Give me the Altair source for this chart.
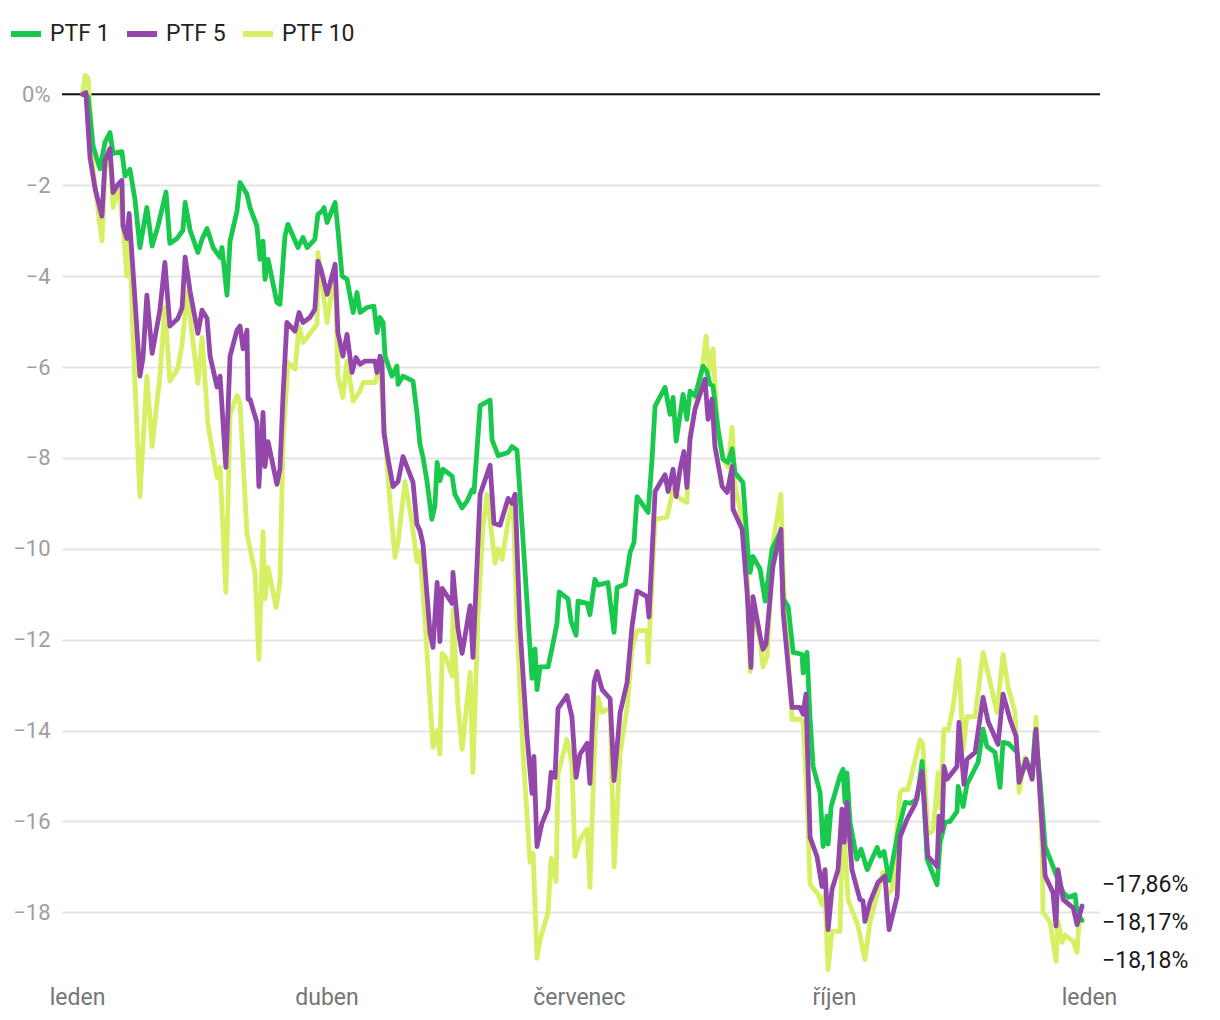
import altair as alt
import pandas as pd

# ---- data: (day of year 2022, cumulative return in %) ----
series_names = ["PTF 1", "PTF 5", "PTF 10"]
series_colors = ["#18c94d", "#9347aa", "#d6f064"]
month_names = ["leden", "únor", "březen", "duben", "květen", "červen",
               "červenec", "srpen", "září", "říjen", "listopad", "prosinec"]
y_ticks = [0, -2, -4, -6, -8, -10, -12, -14, -16, -18]

ptf1 = [
    (2.0, 0.0), (4.0, -0.05), (5.8, -1.14), (8.3, -1.64), (10.1, -1.05), (11.9, -0.84),
    (13.0, -1.3), (16.2, -1.26), (17.3, -1.8), (19.1, -1.65), (20.9, -2.31), (22.7, -3.37),
    (25.2, -2.49), (27.1, -3.34), (29.2, -2.9), (32.1, -2.15), (33.5, -3.28), (36.1, -3.17),
    (38.2, -2.99), (39.0, -2.38), (40.8, -2.99), (43.6, -3.48), (45.1, -3.19), (46.9, -2.95),
    (49.1, -3.37), (51.6, -3.59), (52.3, -3.37), (54.1, -4.42), (55.2, -3.23), (57.7, -2.57),
    (58.8, -1.94), (61.3, -2.2), (62.4, -2.49), (64.9, -2.9), (66.0, -3.63), (67.1, -3.23),
    (67.8, -4.07), (68.9, -3.63), (72.1, -4.58), (73.2, -4.62), (75.0, -3.12), (76.1, -2.86),
    (79.7, -3.37), (81.5, -3.15), (83.0, -3.37), (85.8, -3.19), (86.9, -2.64), (88.4, -2.57),
    (89.1, -2.49), (90.2, -2.82), (93.1, -2.38), (94.1, -2.97), (95.6, -4.0), (97.4, -4.07),
    (99.6, -4.8), (101.0, -4.36), (102.1, -4.8), (104.6, -4.69), (107.1, -4.66), (108.2, -5.24),
    (109.3, -4.91), (110.4, -5.02), (111.1, -5.76), (113.6, -6.2), (115.4, -5.98), (115.8, -6.38),
    (117.6, -6.2), (121.2, -6.31), (122.6, -7.0), (123.7, -7.7), (124.8, -7.99), (126.2, -8.5),
    (128.0, -9.35), (129.1, -9.05), (129.9, -8.1), (130.9, -8.5), (132.0, -8.25), (135.3, -8.4),
    (136.3, -8.8), (138.9, -9.1), (140.7, -8.95), (142.5, -8.7), (143.2, -8.75), (145.4, -6.85),
    (149.0, -6.73), (149.7, -7.6), (151.9, -7.95), (155.5, -7.88), (156.9, -7.75), (158.7, -7.83),
    (159.8, -8.8), (161.6, -10.5), (164.1, -12.85), (165.2, -12.2), (165.9, -13.1), (167.0, -12.6),
    (169.9, -12.6), (171.3, -12.2), (173.1, -11.65), (173.9, -10.95), (177.1, -11.1), (178.2, -11.6),
    (180.0, -11.9), (180.7, -11.15), (184.0, -11.2), (185.0, -11.45), (186.8, -10.67), (187.9, -10.8),
    (191.5, -10.74), (193.7, -11.84), (194.8, -10.85), (197.7, -10.78), (199.5, -10.08), (200.9, -9.86),
    (202.0, -8.85), (206.0, -9.2), (207.4, -8.03), (208.5, -6.86), (212.1, -6.45), (213.9, -7.04),
    (215.0, -6.67), (216.1, -7.63), (218.6, -6.6), (220.0, -7.15), (221.1, -6.53), (222.9, -6.64),
    (225.8, -5.98), (227.2, -6.1), (228.3, -6.38), (229.4, -6.42), (231.2, -7.37), (233.0, -8.03),
    (234.8, -8.1), (236.3, -7.8), (237.3, -8.32), (240.2, -8.54), (242.0, -10.08), (242.8, -10.52),
    (243.8, -10.17), (246.4, -10.45), (248.2, -11.15), (250.7, -10.0), (253.6, -9.65), (254.7, -11.1),
    (256.5, -11.27), (258.3, -12.28), (261.5, -12.32), (261.9, -12.73), (263.3, -12.28), (264.4, -13.75),
    (265.5, -14.79), (268.0, -15.36), (269.1, -16.55), (270.5, -15.88), (270.9, -16.5), (272.0, -15.67),
    (275.2, -15.0), (276.3, -14.85), (277.0, -15.58), (277.7, -14.93), (278.8, -16.02), (281.3, -16.83),
    (282.8, -16.61), (285.0, -17.06), (288.6, -16.57), (289.6, -16.76), (291.1, -16.66), (292.9, -17.3),
    (296.1, -16.24), (298.7, -15.58), (300.5, -15.6), (303.0, -15.51), (304.8, -14.68), (306.6, -16.83),
    (310.2, -17.39), (311.3, -16.46), (313.1, -16.02), (314.9, -16.0), (317.4, -15.78), (317.8, -15.23),
    (319.6, -15.67), (321.0, -15.18), (325.0, -14.7), (326.8, -13.97), (328.2, -14.35), (331.1, -14.48),
    (332.9, -15.25), (334.0, -14.26), (335.8, -14.28), (339.1, -14.48), (340.1, -15.0), (342.7, -14.7),
    (344.5, -15.0), (345.6, -14.04), (347.4, -15.14), (349.2, -16.55), (352.0, -16.99), (353.8, -17.28),
    (355.7, -17.56), (357.5, -17.67), (360.0, -17.61), (360.7, -18.0), (362.5, -18.18),
]

ptf5 = [
    (2.0, 0.0), (3.2, 0.04), (4.7, -1.39), (6.5, -2.07), (9.0, -2.68), (10.1, -1.47),
    (11.9, -1.19), (13.0, -2.16), (14.8, -1.98), (16.2, -1.89), (16.6, -2.9), (18.0, -3.17),
    (18.8, -2.62), (20.9, -4.51), (22.7, -6.2), (23.8, -5.8), (25.2, -4.42), (27.1, -5.7),
    (29.9, -4.75), (31.7, -3.7), (33.5, -5.1), (36.4, -4.93), (37.9, -4.7), (39.0, -3.58),
    (40.8, -4.34), (43.6, -5.26), (45.1, -4.75), (46.9, -4.93), (48.0, -5.76), (50.5, -6.44),
    (51.6, -6.2), (53.7, -8.21), (55.2, -5.76), (57.7, -5.19), (58.8, -5.1), (59.9, -5.6),
    (61.3, -5.19), (61.7, -6.71), (62.4, -6.71), (64.9, -7.22), (65.6, -8.63), (67.1, -7.0),
    (67.8, -8.19), (68.9, -7.64), (72.1, -8.58), (73.2, -8.25), (74.3, -6.64), (75.7, -5.02),
    (78.6, -5.21), (80.1, -4.8), (81.5, -5.02), (84.0, -4.91), (85.8, -4.73), (86.9, -3.67),
    (88.0, -3.85), (90.2, -4.4), (93.1, -3.74), (94.1, -5.24), (95.9, -5.76), (97.4, -5.28),
    (99.2, -6.12), (100.6, -5.79), (102.1, -5.94), (103.9, -5.87), (107.5, -5.87), (108.2, -6.12),
    (109.3, -5.76), (110.0, -5.9), (110.7, -7.44), (112.2, -8.03), (114.0, -8.63), (115.8, -8.52),
    (117.6, -7.97), (121.2, -8.54), (122.6, -9.46), (123.7, -9.6), (124.8, -9.9), (127.3, -11.84),
    (128.4, -12.17), (129.9, -10.74), (130.9, -12.04), (131.7, -10.87), (133.1, -11.0), (135.3, -11.2),
    (135.6, -10.52), (137.4, -11.75), (138.9, -12.3), (141.8, -11.25), (142.8, -12.39), (145.4, -8.8),
    (149.0, -8.16), (150.4, -9.44), (152.6, -9.48), (155.5, -8.89), (156.9, -9.0), (158.0, -8.8),
    (159.8, -11.75), (162.3, -14.1), (164.1, -15.38), (164.8, -14.57), (165.9, -16.55), (167.7, -16.04),
    (169.9, -15.71), (171.0, -14.92), (172.4, -15.03), (173.5, -13.51), (176.7, -13.23), (178.5, -13.69),
    (180.0, -15.03), (181.4, -14.52), (184.0, -14.28), (185.0, -15.16), (186.5, -12.94), (187.6, -12.7),
    (189.4, -13.1), (192.3, -13.3), (193.7, -15.1), (195.9, -13.6), (198.4, -12.94), (200.2, -11.7),
    (202.0, -10.93), (205.6, -11.05), (206.3, -11.5), (208.5, -8.74), (212.1, -8.37), (213.2, -8.74),
    (215.0, -8.25), (216.1, -8.85), (217.5, -8.25), (218.9, -7.86), (220.0, -8.65), (221.1, -7.59),
    (222.9, -6.93), (226.5, -6.27), (227.6, -7.15), (229.0, -6.71), (230.1, -7.75), (232.7, -8.63),
    (234.5, -8.76), (236.3, -8.19), (236.6, -9.13), (239.9, -9.57), (241.7, -10.96), (243.1, -12.61),
    (243.8, -11.05), (246.4, -11.93), (247.4, -12.21), (248.5, -12.1), (251.0, -10.39), (253.9, -9.57),
    (254.7, -11.4), (257.9, -13.49), (260.8, -13.49), (261.9, -13.64), (262.9, -13.2), (264.4, -16.35),
    (266.9, -16.77), (268.7, -17.43), (269.8, -17.06), (270.9, -18.38), (272.3, -17.5), (274.5, -17.06),
    (275.9, -15.73), (276.7, -16.46), (277.7, -15.58), (279.5, -17.06), (282.4, -17.72), (283.5, -17.75),
    (284.2, -18.2), (286.0, -17.78), (288.9, -17.34), (291.4, -17.2), (292.9, -18.38), (295.8, -17.65),
    (296.9, -16.33), (299.4, -15.95), (302.3, -15.62), (304.8, -14.9), (306.9, -16.77), (309.5, -16.94),
    (310.2, -16.99), (310.9, -15.88), (312.0, -16.2), (312.7, -14.79), (313.8, -15.07), (317.4, -14.79),
    (318.1, -13.82), (319.9, -15.18), (321.0, -14.63), (323.9, -14.48), (326.8, -13.27), (328.6, -13.8),
    (332.2, -14.3), (334.0, -13.2), (336.5, -13.75), (338.7, -14.13), (339.8, -15.14), (342.3, -14.63),
    (344.5, -15.07), (345.9, -13.97), (347.4, -15.45), (349.2, -17.2), (352.0, -17.56), (353.1, -18.3),
    (353.8, -17.06), (355.7, -17.72), (359.3, -17.9), (360.7, -18.27), (362.5, -17.86),
]

ptf10 = [
    (2.0, 0.0), (2.9, 0.42), (4.0, 0.35), (4.7, -0.3), (5.8, -1.65), (9.0, -3.23),
    (10.1, -1.65), (11.9, -1.3), (13.0, -2.49), (14.8, -2.0), (16.6, -2.9), (18.0, -4.0),
    (18.8, -2.8), (20.2, -5.35), (22.7, -8.85), (25.2, -6.2), (27.1, -7.75), (29.9, -6.2),
    (31.7, -4.68), (33.5, -6.31), (36.4, -6.03), (37.9, -5.5), (39.7, -4.34), (43.6, -6.36),
    (45.1, -5.35), (47.3, -7.29), (50.5, -8.43), (51.6, -8.2), (53.7, -10.96), (55.2, -7.04),
    (57.7, -6.62), (58.8, -6.8), (59.9, -8.05), (61.3, -9.66), (64.2, -10.52), (65.6, -12.43),
    (67.1, -9.62), (67.8, -11.1), (68.9, -10.41), (71.8, -11.29), (73.2, -10.74), (74.3, -7.66),
    (76.1, -5.9), (78.6, -6.05), (80.1, -5.1), (81.5, -5.46), (86.6, -5.06), (86.9, -3.48),
    (90.2, -5.02), (93.1, -3.85), (94.1, -6.2), (95.9, -6.67), (97.4, -5.87), (99.6, -6.75),
    (102.1, -6.53), (103.2, -6.34), (107.5, -6.34), (109.3, -6.0), (110.4, -6.96), (112.9, -8.98),
    (114.7, -10.19), (115.8, -9.86), (118.3, -8.52), (120.8, -9.42), (122.6, -10.28), (123.7, -10.05),
    (125.5, -11.55), (126.6, -12.65), (128.4, -14.37), (129.9, -14.0), (130.9, -14.52), (131.7, -12.3),
    (133.1, -12.4), (135.3, -12.8), (135.6, -11.33), (137.4, -13.45), (138.9, -14.41), (141.8, -12.72),
    (142.8, -14.92), (144.6, -11.5), (146.4, -9.53), (147.9, -8.8), (150.8, -10.32), (151.9, -10.0),
    (153.3, -10.23), (155.5, -9.4), (157.3, -8.9), (158.7, -11.66), (160.9, -14.52), (163.4, -16.9),
    (164.5, -16.7), (165.9, -19.01), (167.0, -18.6), (169.9, -18.0), (171.0, -16.81), (172.8, -17.32),
    (173.5, -14.96), (176.7, -14.19), (178.5, -14.7), (179.6, -16.77), (181.4, -16.4), (184.0, -16.17),
    (185.0, -17.45), (186.8, -14.1), (187.9, -13.27), (189.4, -13.6), (192.3, -13.5), (193.7, -17.0),
    (195.9, -14.5), (198.4, -13.5), (200.2, -12.2), (202.0, -11.8), (205.6, -11.8), (206.0, -12.5),
    (208.5, -9.35), (212.8, -9.3), (215.0, -8.7), (217.5, -8.9), (220.0, -8.98), (221.1, -7.5),
    (222.9, -6.9), (224.7, -6.4), (226.9, -5.32), (228.0, -6.1), (229.4, -5.6), (230.8, -7.15),
    (233.0, -8.03), (234.8, -8.2), (236.3, -7.33), (237.3, -8.6), (239.9, -9.35), (241.7, -10.5),
    (242.8, -12.7), (243.8, -11.4), (246.4, -12.0), (247.4, -12.6), (248.9, -12.37), (251.0, -9.9),
    (253.9, -8.8), (254.7, -10.6), (257.9, -13.75), (260.8, -13.75), (261.9, -13.8), (263.3, -15.5),
    (264.4, -17.39), (267.3, -17.6), (268.7, -17.83), (269.8, -17.6), (270.9, -19.26), (272.3, -18.42),
    (275.2, -18.42), (276.3, -15.8), (278.1, -17.72), (281.7, -18.3), (284.2, -19.04), (286.0, -18.22),
    (290.7, -17.12), (292.5, -17.6), (294.0, -17.5), (296.9, -15.36), (297.9, -15.3), (299.7, -15.3),
    (304.1, -14.2), (305.1, -14.3), (306.9, -16.28), (308.8, -16.2), (310.6, -14.93), (311.3, -15.7),
    (312.7, -13.97), (314.2, -14.0), (316.0, -13.47), (318.1, -12.44), (319.6, -14.41), (321.0, -13.69),
    (323.9, -13.7), (326.8, -12.28), (329.3, -12.92), (331.8, -13.6), (334.0, -12.33), (335.8, -13.03),
    (338.3, -13.6), (339.8, -15.36), (341.9, -14.59), (344.5, -15.0), (345.9, -13.71), (348.1, -16.55),
    (348.4, -18.0), (351.0, -18.22), (353.1, -19.08), (353.8, -18.2), (355.3, -18.66), (356.4, -18.5),
    (359.3, -18.64), (360.7, -18.88), (361.4, -18.2), (362.5, -18.17),
]

# ---- build tables ----
base = pd.Timestamp("2022-01-01")


def to_frame(name, pts):
    return pd.DataFrame({
        "series": name,
        "date": [base + pd.to_timedelta(d, unit="D") for d, _ in pts],
        "value": [v for _, v in pts],
        "i": list(range(len(pts))),
    })


frames = {"PTF 1": to_frame("PTF 1", ptf1),
          "PTF 5": to_frame("PTF 5", ptf5),
          "PTF 10": to_frame("PTF 10", ptf10)}

# end labels, spread apart so they don't overlap (centred on the middle one)
ends = sorted([(f["value"].iloc[-1], f["date"].iloc[-1]) for f in frames.values()], reverse=True)
gap = 0.83
pos = [ends[0][0]]
for v, _ in ends[1:]:
    pos.append(min(v, pos[-1] - gap))
shift = ends[len(ends) // 2][0] - pos[len(ends) // 2]
labels = pd.DataFrame({
    "date": [d for _, d in ends],
    "value": [p + shift for p in pos],
    "label": ["−" + f"{abs(v):.2f}".replace(".", ",") + "%" for v, _ in ends],
})

# ---- shared encodings ----
FONT = "Roboto"
x_enc = alt.X(
    "date:T",
    title=None,
    scale=alt.Scale(domain=[alt.DateTime(year=2021, month=12, date=26, hours=14, minutes=10),
                            alt.DateTime(year=2023, month=1, date=4, hours=23, minutes=20)]),
    axis=alt.Axis(
        values=[alt.DateTime(year=2022, month=1, date=1), alt.DateTime(year=2022, month=4, date=1),
                alt.DateTime(year=2022, month=7, date=1), alt.DateTime(year=2022, month=10, date=1),
                alt.DateTime(year=2023, month=1, date=1)],
        labelExpr="[" + ",".join(f"'{m}'" for m in month_names) + "][month(datum.value)]",
        grid=False, domain=False, ticks=False, labelPadding=10,
        labelFontSize=23, labelColor="#757575", labelFont=FONT,
        labelFlush=False, labelOverlap=False,
    ),
)
y_enc = alt.Y(
    "value:Q",
    title=None,
    scale=alt.Scale(domain=[-19.4, 0.8], nice=False, zero=False),
    axis=alt.Axis(
        values=y_ticks,
        labelExpr="datum.value == 0 ? '0%' : datum.label",
        grid=True, gridColor="#e4e4e4", gridWidth=2,
        domain=False, ticks=False, labelPadding=12,
        labelFontSize=22, labelColor="#9e9e9e", labelFont=FONT,
    ),
)
color_enc = alt.Color(
    "series:N",
    scale=alt.Scale(domain=series_names, range=series_colors),
    legend=alt.Legend(
        title=None, orient="none", legendX=-54, legendY=-42, direction="horizontal",
        symbolType="stroke", symbolStrokeWidth=6, symbolSize=900,
        labelFontSize=23, labelColor="#222222", labelFont=FONT,
        labelOffset=6, columnPadding=5, padding=0,
    ),
)

zero_rule = alt.Chart(pd.DataFrame({"value": [0.0]})).mark_rule(
    color="#111111", strokeWidth=2
).encode(y=y_enc)


def line_layer(name):
    return alt.Chart(frames[name]).mark_line(
        strokeWidth=4.8, strokeJoin="round", strokeCap="round"
    ).encode(x=x_enc, y=y_enc, color=color_enc, order="i:Q")


end_text = alt.Chart(labels).mark_text(
    align="left", baseline="middle", dx=20, dy=3, fontSize=23, color="#1a1a1a", font=FONT
).encode(x=x_enc, y=y_enc, text="label:N")

chart = alt.layer(
    zero_rule,
    line_layer("PTF 10"),
    line_layer("PTF 1"),
    line_layer("PTF 5"),
    end_text,
).properties(
    width=1038, height=918,
    padding={"left": 0, "top": 8, "right": 5, "bottom": 2},
).configure(font=FONT).configure_view(strokeWidth=0, stroke="transparent")

chart.save("out.html", embed_options={"renderer": "svg", "actions": False})
